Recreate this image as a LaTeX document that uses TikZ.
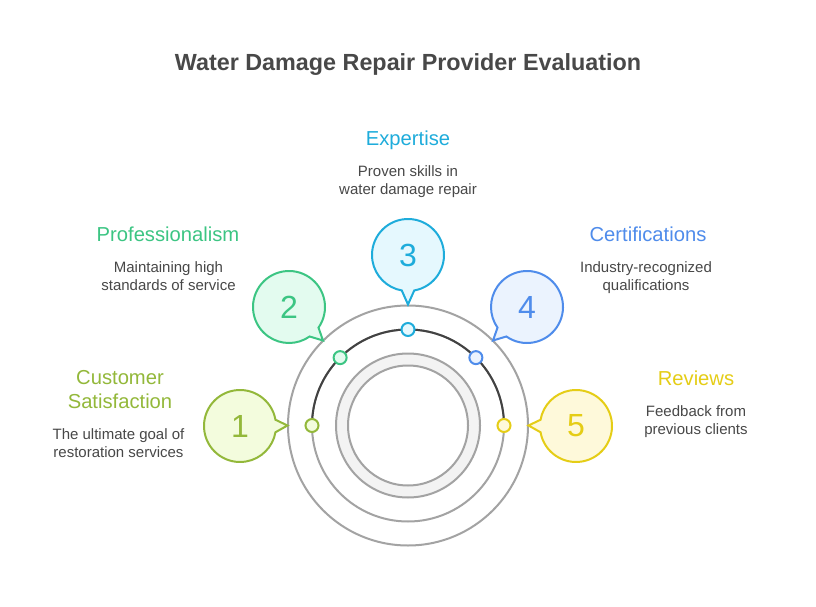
\documentclass[tikz,border=0pt]{standalone}
\usepackage{fontspec}
\setmainfont{Liberation Sans}
\usetikzlibrary{calc}
\definecolor{ink}{HTML}{484848}
\definecolor{ringgray}{HTML}{A3A3A3}
\definecolor{arcdark}{HTML}{424242}
\definecolor{ringfill}{HTML}{F3F3F3}
\definecolor{cA}{HTML}{93B83A}\definecolor{fA}{HTML}{F3FCDD}
\definecolor{cB}{HTML}{3CC583}\definecolor{fB}{HTML}{E3FBEF}
\definecolor{cC}{HTML}{1EACDB}\definecolor{fC}{HTML}{E5F8FE}
\definecolor{cD}{HTML}{4F8CEB}\definecolor{fD}{HTML}{EBF3FE}
\definecolor{cE}{HTML}{E5CD16}\definecolor{fE}{HTML}{FEF9DA}
\tikzset{
  x=1pt,y=1pt,
  titletext/.style={font=\bfseries\fontsize{23.35}{28}\selectfont,text=ink,anchor=center,inner sep=0pt},
  headtext/.style={font=\fontsize{20.2}{24}\selectfont,align=center,anchor=center,inner sep=0pt},
  bodytext/.style={font=\fontsize{15}{18}\selectfont,text=ink,align=center,anchor=center,inner sep=0pt},
  numtext/.style={font=\fontsize{32}{36}\selectfont,inner sep=0pt,anchor=center},
  ringline/.style={draw=ringgray,line width=2pt},
  dot/.style={circle,line width=2pt,minimum size=13pt,inner sep=0pt},
}
% #1 name, #2 centre, #3 tail angle, #4 tip, #5 stroke, #6 fill, #7 digit
\newcommand{\speech}[7]{%
  \coordinate (#1c) at #2;
  \coordinate (#1t) at #4;
  \draw[line width=2pt,draw=#5,fill=#6,line join=miter]
    ($(#1c)+(#3+10:36)$) arc[start angle=#3+10,delta angle=340,radius=36]
    -- (#1t) -- cycle;
  \node[numtext,text=#5] (#1) at (#1c) {#7};
}
\begin{document}
\begin{tikzpicture}
\useasboundingbox (0,0) rectangle (816,606);
\fill[white] (0,0) rectangle (816,606);
\coordinate (o) at (408,180.5);
\node[titletext] (title) at (408,541) {Water Damage Repair Provider Evaluation};
% rings
\draw[ringline] (o) circle[radius=120];
\draw[ringline] (o) circle[radius=96];
\draw[ringline,fill=ringfill,even odd rule] (o) circle[radius=72] (o) circle[radius=60];
\draw[draw=arcdark,line width=2pt] ($(o)+(180:96)$) arc[start angle=180,end angle=0,radius=96];
% dots
\node[dot,draw=cA,fill=fA] (d1) at ($(o)+(180:96)$) {};
\node[dot,draw=cB,fill=fB] (d2) at ($(o)+(135:96)$) {};
\node[dot,draw=cC,fill=fC] (d3) at ($(o)+(90:96)$) {};
\node[dot,draw=cD,fill=fD] (d4) at ($(o)+(45:96)$) {};
\node[dot,draw=cE,fill=fE] (d5) at ($(o)+(0:96)$) {};
% bubbles
\speech{b1}{(240,180)}{0}{(287.5,180.5)}{cA}{fA}{1}
\speech{b2}{(289,299)}{-45}{(323,265.5)}{cB}{fB}{2}
\speech{b3}{(408,351)}{-90}{(408,301.5)}{cC}{fC}{3}
\speech{b4}{(527,299)}{225}{(493,265.5)}{cD}{fD}{4}
\speech{b5}{(576,180)}{180}{(528.5,180.5)}{cE}{fE}{5}
% labels
\node[headtext,text=cA] (h1) at (120,216) {Customer\\Satisfaction};
\node[bodytext] (t1) at (118.5,162.5) {The ultimate goal of\\restoration services};
\node[headtext,text=cB] (h2) at (168,372) {Professionalism};
\node[bodytext] (t2) at (168.5,330) {Maintaining high\\standards of service};
\node[headtext,text=cC] (h3) at (408,466) {Expertise};
\node[bodytext] (t3) at (408,424) {Proven skills in\\water damage repair};
\node[headtext,text=cD] (h4) at (648,372) {Certifications};
\node[bodytext] (t4) at (646,328) {Industry-recognized\\qualifications};
\node[headtext,text=cE] (h5) at (696,228) {Reviews};
\node[bodytext] (t5) at (696,184.5) {Feedback from\\previous clients};
\end{tikzpicture}
\end{document}
